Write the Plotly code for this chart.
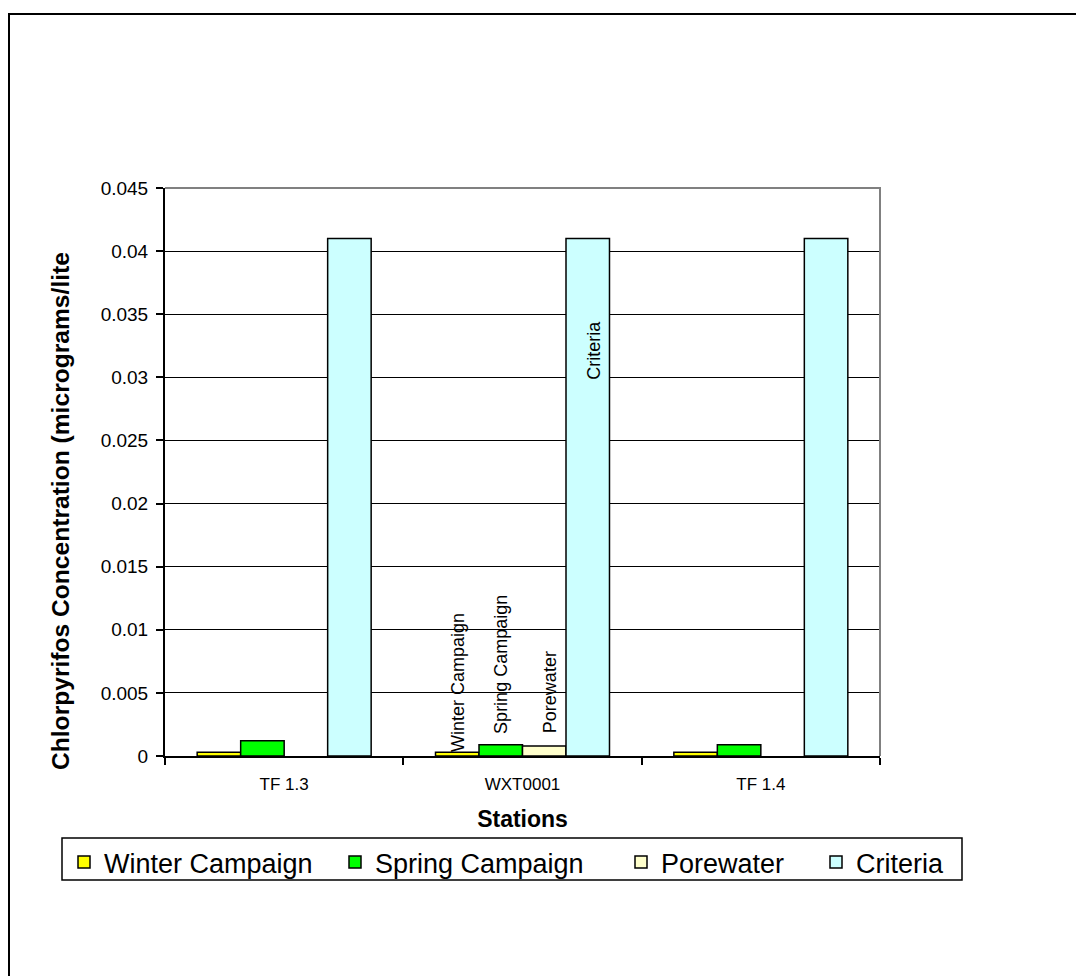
import plotly.graph_objects as go

# Chlorpyrifos results by station
stations = ["TF 1.3", "WXT0001", "TF 1.4"]
series_names = ["Winter Campaign", "Spring Campaign", "Porewater", "Criteria"]
winter = [0.0003, 0.0003, 0.0003]
spring = [0.0012, 0.0009, 0.0009]
porewater = [None, 0.0008, None]
criteria = [0.041, 0.041, 0.041]
series_values = [winter, spring, porewater, criteria]
series_colors = ["#FFFF00", "#00FF00", "#FFFFCC", "#CCFFFF"]

y_ticks = [0, 0.005, 0.01, 0.015, 0.02, 0.025, 0.03, 0.035, 0.04, 0.045]
y_tick_labels = ["0", "0.005", "0.01", "0.015", "0.02", "0.025", "0.03", "0.035", "0.04", "0.045"]

# series labels are written above the bars of this station
labelled_station = "WXT0001"

# the value-axis title is cut short by the chart frame
y_title = "Chlorpyrifos Concentration (micrograms/lite"

FONT = "Liberation Sans, Arial, sans-serif"
BARGAP = 0.27

# plot-area geometry in pixels
L, R, T, B = 165, 880, 188, 756
W, H = R - L, B - T


def px_x(p):
    return (p - L) / W


def px_y(p):
    return (B - p) / H


x_pos = list(range(len(stations)))

# one legend per series so each entry sits at its own spot in the key box
legend_ids = ["legend", "legend2", "legend3", "legend4"]
legend_text_left = [106, 377, 663, 858]

fig = go.Figure()
for name, vals, color, lg in zip(series_names, series_values, series_colors, legend_ids):
    fig.add_trace(go.Bar(
        name=name, x=x_pos, y=vals, legend=lg,
        marker=dict(color=color, line=dict(color="black", width=1.5)),
    ))

# rotated data labels for the labelled station
n = len(series_names)
bar_w = (1 - BARGAP) / n
si = stations.index(labelled_station)
label_yshift = [-2, 9, 11, -80]
label_xshift = [0, 0, 6, 6]
for j, (name, vals) in enumerate(zip(series_names, series_values)):
    x = si - (1 - BARGAP) / 2 + (j + 0.5) * bar_w
    inside = name == "Criteria"
    fig.add_annotation(
        x=x, y=vals[si], xref="x", yref="y", text=name, showarrow=False,
        textangle=-90, xanchor="center", yanchor="top" if inside else "bottom",
        yshift=label_yshift[j], xshift=label_xshift[j],
        font=dict(family=FONT, size=18, color="black"),
    )

legend_style = dict(
    orientation="h", y=px_y(838), xanchor="left", yanchor="top",
    borderwidth=0, bgcolor="rgba(0,0,0,0)",
    font=dict(family=FONT, size=27, color="black"),
)
legends = {
    lg: dict(legend_style, x=px_x(tx - 42))
    for lg, tx in zip(legend_ids, legend_text_left)
}

fig.update_layout(
    width=1076, height=976,
    margin=dict(l=L, r=1076 - R, t=T, b=976 - B),
    paper_bgcolor="white", plot_bgcolor="white",
    barmode="group", bargap=BARGAP, bargroupgap=0,
    font=dict(family=FONT, color="black"),
    showlegend=True,
    xaxis=dict(
        range=[-0.5, len(stations) - 0.5],
        tickvals=x_pos, ticktext=stations, ticks="",
        ticklabelstandoff=12,
        tickfont=dict(family=FONT, size=17, color="black"),
        minor=dict(tickvals=[i - 0.5 for i in range(len(stations) + 1)],
                   ticks="outside", ticklen=7, tickcolor="black", tickwidth=1.5,
                   showgrid=False),
        showline=True, linecolor="black", linewidth=2,
        showgrid=False, zeroline=False,
        title=dict(text="<b>Stations</b>", standoff=17,
                   font=dict(family=FONT, size=23, color="black")),
    ),
    yaxis=dict(
        range=[0, 0.045], tickvals=y_ticks, ticktext=y_tick_labels,
        ticks="outside", ticklen=7, tickcolor="black", tickwidth=1.5,
        ticklabelstandoff=4,
        tickfont=dict(family=FONT, size=19, color="black"),
        showline=True, linecolor="black", linewidth=2,
        showgrid=True, gridcolor="black", gridwidth=1, zeroline=False,
    ),
    **legends,
)

# value-axis title
fig.add_annotation(
    x=px_x(60), y=px_y(511), xref="paper", yref="paper",
    text="<b>" + y_title + "</b>",
    textangle=-90, showarrow=False, xanchor="center", yanchor="middle",
    font=dict(family=FONT, size=24.6, color="black"),
)

# box around the key
fig.add_shape(type="rect", xref="paper", yref="paper",
              x0=px_x(62), x1=px_x(962), y0=px_y(880), y1=px_y(838),
              line=dict(color="black", width=1.5), fillcolor="white",
              layer="below")

# gray top/right border of the plot area
fig.add_shape(type="path", xref="paper", yref="paper",
              path="M 0,1 L 1,1 L 1,0", line=dict(color="#808080", width=2),
              layer="above")

# outer chart frame
fig.add_shape(type="rect", xref="paper", yref="paper",
              x0=px_x(9), x1=px_x(1120), y0=px_y(1020), y1=px_y(14),
              line=dict(color="black", width=2), fillcolor="rgba(0,0,0,0)",
              layer="above")

fig.write_html("out.html")
